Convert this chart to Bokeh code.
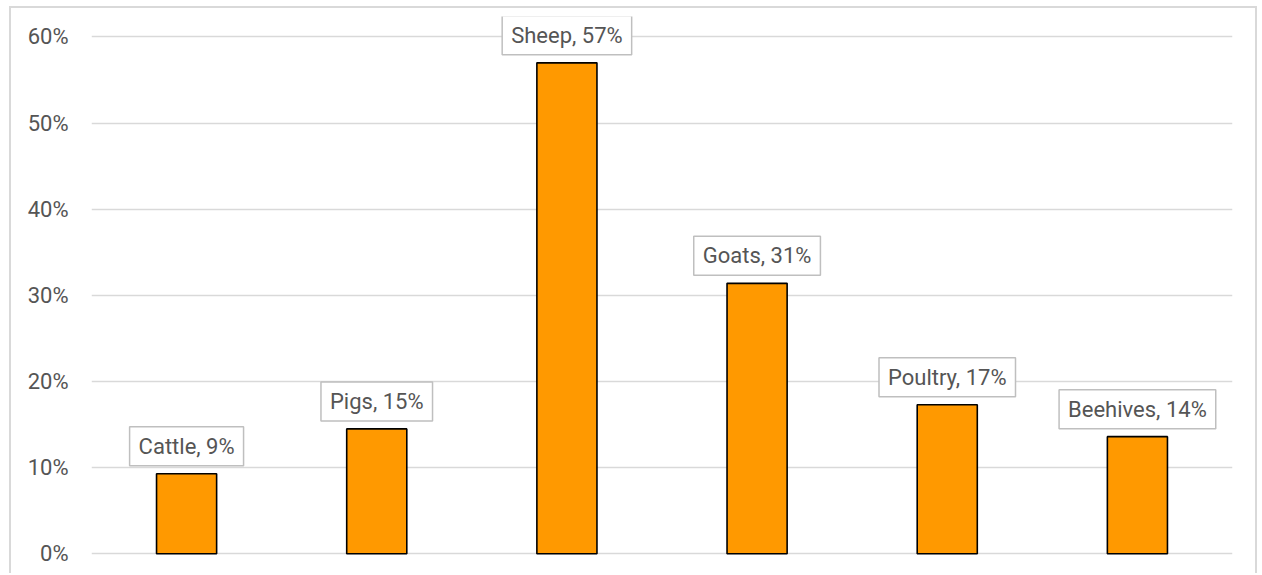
from bokeh.plotting import figure
from bokeh.models import ColumnDataSource, Range1d, NumeralTickFormatter, FixedTicker
from bokeh.core.properties import value
from bokeh.embed import file_html
from bokeh.resources import INLINE

categories = ["Cattle", "Pigs", "Sheep", "Goats", "Poultry", "Beehives"]
shares = [0.093, 0.145, 0.570, 0.314, 0.173, 0.136]
label_texts = ["Cattle, 9%", "Pigs, 15%", "Sheep, 57%", "Goats, 31%", "Poultry, 17%", "Beehives, 14%"]
y_ticks = [0.0, 0.1, 0.2, 0.3, 0.4, 0.5, 0.6]

FONT = "Roboto"
GREY = "#555555"

src = ColumnDataSource(dict(cat=categories, val=shares, lab=label_texts))

p = figure(x_range=categories, y_range=Range1d(-0.002, 0.6238),
           width=1248, height=567, output_backend="svg", toolbar_location=None,
           min_border_left=80, min_border_right=27, min_border_top=8, min_border_bottom=20)
p.styles = {"margin-left": "9px", "margin-top": "6px",
            "border-left": "2px solid #d9d9d9", "border-top": "2px solid #d9d9d9",
            "border-right": "2px solid #d9d9d9"}
p.outline_line_color = None
p.x_range.range_padding = 0
p.vbar(x="cat", top="val", width=0.316, source=src, fill_color="#ff9900",
       line_color="black", line_width=1.6)

p.xaxis.visible = False
p.xgrid.visible = False
p.ygrid.grid_line_color = "#d9d9d9"
p.ygrid.grid_line_width = 1.5
p.yaxis.ticker = FixedTicker(ticks=y_ticks)
p.yaxis.formatter = NumeralTickFormatter(format="0%")
p.yaxis.axis_line_color = None
p.yaxis.major_tick_line_color = None
p.yaxis.minor_tick_line_color = None
p.yaxis.major_label_standoff = 17
p.yaxis.major_label_text_font = FONT
p.yaxis.major_label_text_font_size = "22px"
p.yaxis.major_label_text_color = GREY

p.text(x="cat", y="val", text="lab", source=src, text_align="center",
       text_baseline="bottom", y_offset=-8, text_font=value(FONT),
       text_font_size="22px", text_color=GREY,
       background_fill_color="white", border_line_color="#bfbfbf",
       border_line_width=1.5, padding=(9, 7))

open("out.html", "w").write(file_html(p, INLINE))
